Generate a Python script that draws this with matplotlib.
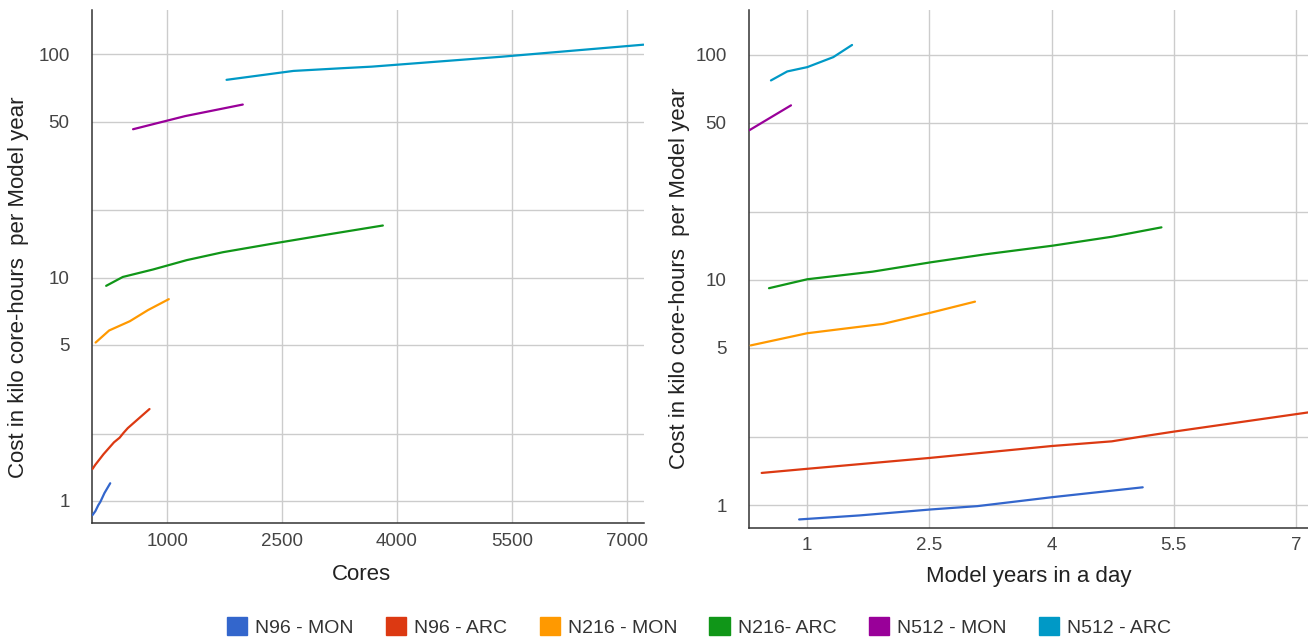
import matplotlib
matplotlib.use("Agg")
import matplotlib.pyplot as plt
from matplotlib.patches import Patch
from matplotlib.ticker import FixedLocator, FixedFormatter, NullLocator

plt.rcParams['font.family'] = ['Liberation Sans', 'DejaVu Sans']

# ---------------- data ----------------
series_names = ["N96 - MON", "N96 - ARC", "N216 - MON", "N216- ARC", "N512 - MON", "N512 - ARC"]
series_colors = ["#3366cc", "#dc3912", "#ff9900", "#109618", "#990099", "#0099c6"]

n96_mon_cores = [24, 62, 100, 127, 181, 256]
n96_mon_speed = [0.90, 1.64, 2.52, 3.09, 4.01, 5.12]
n96_mon_cost = [0.864, 0.90, 0.957, 0.99, 1.085, 1.20]

n96_arc_cores = [24, 60, 169, 305, 379, 431, 486, 769]
n96_arc_speed = [0.44, 1.00, 2.50, 4.00, 4.74, 5.12, 5.50, 7.15]
n96_arc_cost = [1.39, 1.45, 1.62, 1.83, 1.92, 2.02, 2.12, 2.58]

n216_mon_cores = [65, 242, 512, 750, 1021]
n216_mon_speed = [0.305, 1.00, 1.93, 2.52, 3.06]
n216_mon_cost = [5.12, 5.80, 6.38, 7.16, 8.01]

n216_arc_cores = [203, 420, 816, 1255, 1728, 2371, 3068, 3816]
n216_arc_speed = [0.53, 1.00, 1.80, 2.52, 3.19, 4.01, 4.74, 5.35]
n216_arc_cost = [9.19, 10.07, 10.88, 11.98, 13.0, 14.19, 15.55, 17.12]

n512_mon_cores = [554, 1234, 1987]
n512_mon_speed = [0.288, 0.56, 0.80]
n512_mon_cost = [46.2, 52.9, 59.6]

n512_arc_cores = [1775, 2648, 3287, 3671, 5368, 7220]
n512_arc_speed = [0.554, 0.754, 0.91, 1.00, 1.32, 1.55]
n512_arc_cost = [76.9, 84.3, 86.7, 88.1, 97.6, 110.5]

cores_ticks = [1000, 2500, 4000, 5500, 7000]
cores_tick_labels = ["1000", "2500", "4000", "5500", "7000"]
speed_ticks = [1, 2.5, 4, 5.5, 7]
speed_tick_labels = ["1", "2.5", "4", "5.5", "7"]
cost_ticks = [1, 2, 5, 10, 20, 50, 100]
cost_tick_labels = ["1", "", "5", "10", "", "50", "100"]

all_cores = [n96_mon_cores, n96_arc_cores, n216_mon_cores, n216_arc_cores, n512_mon_cores, n512_arc_cores]
all_speed = [n96_mon_speed, n96_arc_speed, n216_mon_speed, n216_arc_speed, n512_mon_speed, n512_arc_speed]
all_cost = [n96_mon_cost, n96_arc_cost, n216_mon_cost, n216_arc_cost, n512_mon_cost, n512_arc_cost]

# ---------------- figure ----------------
W, H = 1308, 643
fig = plt.figure(figsize=(W / 100, H / 100), dpi=100)

def px_axes(x0, x1, ytop, ybot):
    return fig.add_axes([x0 / W, (H - ybot) / H, (x1 - x0) / W, (ybot - ytop) / H])

ax1 = px_axes(92.3, 644, 10, 523.3)
ax2 = px_axes(749.3, 1308, 10, 527.7)

tick_color = "#444444"
label_color = "#222222"

for ax, xs, xt, xtl, xlim in [
    (ax1, all_cores, cores_ticks, cores_tick_labels, (22, 7226)),
    (ax2, all_speed, speed_ticks, speed_tick_labels, (0.288, 7.15)),
]:
    for x, y, c in zip(xs, all_cost, series_colors):
        ax.plot(x, y, color=c, lw=1.6, solid_capstyle='round', zorder=3)
    ax.set_yscale('log')
    ax.set_ylim(0.794, 158)
    ax.set_xlim(*xlim)
    ax.yaxis.set_major_locator(FixedLocator(cost_ticks))
    ax.yaxis.set_major_formatter(FixedFormatter(cost_tick_labels))
    ax.yaxis.set_minor_locator(NullLocator())
    ax.set_xticks(xt)
    ax.set_xticklabels(xtl)
    ax.grid(True, color="#cccccc", lw=1.0, zorder=0)
    ax.set_axisbelow(True)
    for s in ['top', 'right']:
        ax.spines[s].set_visible(False)
    for s in ['left', 'bottom']:
        ax.spines[s].set_color("#333333")
        ax.spines[s].set_linewidth(1.1)
    ax.tick_params(axis='y', length=0, pad=16.3, labelsize=13.5, labelcolor=tick_color)
    ax.tick_params(axis='x', length=0, pad=6.8, labelsize=13.5, labelcolor=tick_color)

ax1.set_xlabel("Cores", fontsize=16, color=label_color)
ax1.xaxis.set_label_coords(0.487, -0.0793)
ax1.set_ylabel("Cost in kilo core-hours  per Model year", fontsize=16, color=label_color)
ax1.yaxis.set_label_coords(-0.1147, 0.459)

ax2.set_xlabel("Model years in a day", fontsize=16, color=label_color)
ax2.xaxis.set_label_coords(0.4994, -0.074)
ax2.set_ylabel("Cost in kilo core-hours  per Model year", fontsize=16, color=label_color)
ax2.yaxis.set_label_coords(-0.106, 0.4817)

handles = [Patch(facecolor=c, edgecolor=c, label=n) for n, c in zip(series_names, series_colors)]
fig.legend(handles=handles, loc='center', bbox_to_anchor=(699 / W, 1 - 627 / H),
           ncol=6, frameon=False, fontsize=14, handlelength=1.03, handleheight=1.03,
           handletextpad=0.43, columnspacing=1.65, labelcolor="#333333",
           borderaxespad=0, borderpad=0)

fig.savefig("out.png", dpi=100)
